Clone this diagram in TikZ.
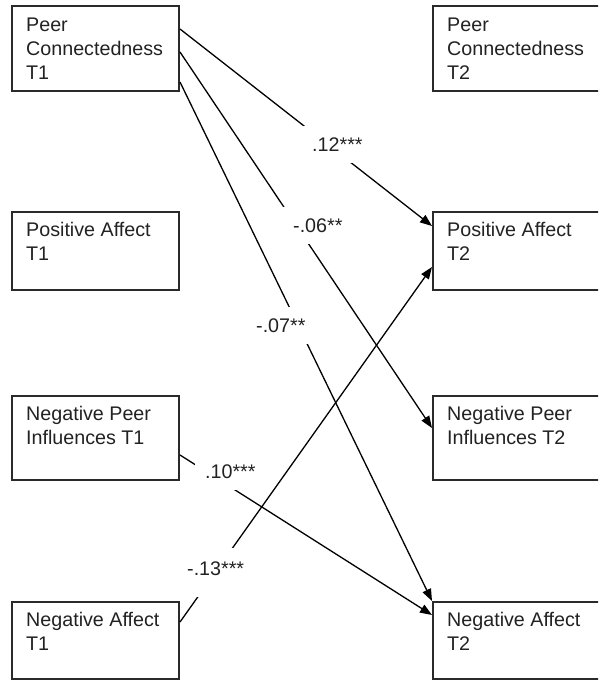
\documentclass[tikz,border=0pt]{standalone}
\usepackage{fontspec}
\setmainfont{Liberation Sans}
\usetikzlibrary{arrows.meta}
\definecolor{ink}{HTML}{222222}
\definecolor{boxline}{HTML}{2A2A2A}
\tikzset{
  varbox/.style={draw=boxline, line width=2pt, rectangle, inner sep=0pt, anchor=north west, minimum width=167pt},
  varboxr/.style={varbox, minimum width=180pt},
  boxtext/.style={anchor=north west, inner sep=0pt, align=left, text=ink, font=\fontsize{19.7}{23.8}\selectfont},
  path/.style={draw=black, line width=1.3pt, -{Triangle[length=12pt,width=9pt]}},
  coef/.style={fill=white, text=ink, inner xsep=10pt, inner ysep=0pt, text height=25pt, text depth=12pt, anchor=base west, font=\fontsize{19.7}{23.8}\selectfont}
}
\begin{document}
\begin{tikzpicture}[x=1pt,y=-1pt]
\useasboundingbox (0,0) rectangle (598,680);
\clip (0,0) rectangle (598,680);
% left column
\node[varbox, minimum height=85pt] (pc1) at (11,5) {};
\node[varbox, minimum height=78pt] (pa1) at (11,211) {};
\node[varbox, minimum height=84pt] (npi1) at (11,395) {};
\node[varbox, minimum height=77pt] (na1) at (11,601) {};
% right column
\node[varboxr, minimum height=85pt] (pc2) at (432,5) {};
\node[varboxr, minimum height=78pt] (pa2) at (432,211) {};
\node[varboxr, minimum height=84pt] (npi2) at (432,395) {};
\node[varboxr, minimum height=77pt] (na2) at (432,601) {};
% texts
\node[boxtext] (pc1t) at ([xshift=15pt,yshift=-13pt]pc1.north west) {Peer\\Connectedness\\T1};
\node[boxtext] (pa1t) at ([xshift=15pt,yshift=-11.5pt]pa1.north west) {Positive Affect\\T1};
\node[boxtext] (npi1t) at ([xshift=15pt,yshift=-11pt]npi1.north west) {Negative Peer\\Influences T1};
\node[boxtext] (na1t) at ([xshift=15pt,yshift=-11pt]na1.north west) {Negative Affect\\T1};
\node[boxtext] (pc2t) at ([xshift=15pt,yshift=-13pt]pc2.north west) {Peer\\Connectedness\\T2};
\node[boxtext] (pa2t) at ([xshift=15pt,yshift=-11.5pt]pa2.north west) {Positive Affect\\T2};
\node[boxtext] (npi2t) at ([xshift=15pt,yshift=-11pt]npi2.north west) {Negative Peer\\Influences T2};
\node[boxtext] (na2t) at ([xshift=15pt,yshift=-11pt]na2.north west) {Negative Affect\\T2};
% paths
\draw[path] ([yshift=-24pt]pc1.north east) -- ([yshift=-15pt]pa2.north west);
\draw[path] ([yshift=-47pt]pc1.north east) -- ([yshift=-33pt]npi2.north west);
\draw[path] ([yshift=-77pt]pc1.north east) -- (na2.north west);
\draw[path] ([yshift=-60pt]npi1.north east) -- ([yshift=-14pt]na2.north west);
\draw[path] ([yshift=-21pt]na1.north east) -- ([yshift=-56pt]pa2.north west);
% coefficients
\node[coef] (c1) at (302,151) {.12***};
\node[coef] (c2) at (283,232) {-.06**};
\node[coef] (c3) at (246,332) {-.07**};
\node[coef] (c4) at (195,478) {.10***};
\node[coef, text height=27pt, text depth=22pt] (c5) at (177,575) {-.13***};
\end{tikzpicture}
\end{document}
